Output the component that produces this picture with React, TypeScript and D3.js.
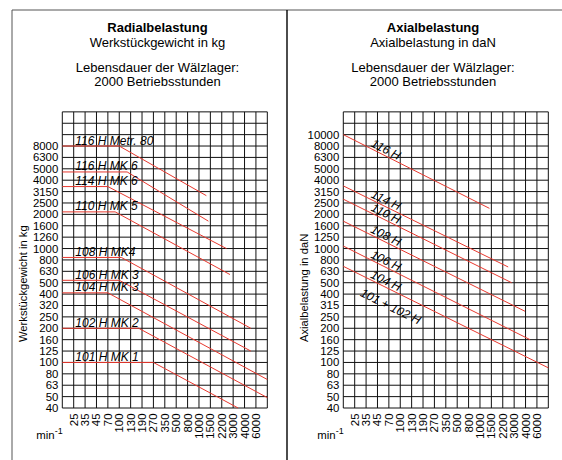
import React from 'react';
import * as d3 from 'd3';

// Drehzahl (min-1) labels along the bottom, one per interior grid line
const rpmTicks = [25, 35, 45, 70, 100, 130, 190, 270, 350, 500, 800, 1000, 1500, 2200, 3000, 4000, 6000];
// notional values at the left / right edge of the grid
const rpmEdges = [18, 9000];

const radialTicks = [40, 50, 63, 80, 100, 125, 160, 200, 250, 320, 400, 500, 630, 800, 1000, 1260, 1600, 2000, 2500, 3150, 4000, 5000, 6300, 8000];
const axialTicks = [40, 50, 63, 80, 100, 125, 160, 200, 250, 315, 400, 500, 630, 800, 1000, 1250, 1600, 2000, 2500, 3150, 4000, 5000, 6300, 8000, 10000];

// Radialbelastung: flat up to the knee, then falling
const radialNames = ['116 H Metr. 80', '116 H MK 6', '114 H MK 6', '110 H MK 5', '108 H MK4', '106 H MK 3', '104 H MK 3', '102 H MK 2', '101 H MK 1'];
const radialLoad = [8000, 4700, 3500, 2100, 840, 525, 410, 200, 100];
const radialKneeRpm = [100, 120, 70, 88, 105, 100, 70, 170, 270];
const radialEndRpm = [1300, 1400, 2500, 2750, 5000, 5000, 9000, 9000, 3400];
const radialEndLoad = [2900, 1750, 1000, 590, 200, 125, 71, 49, 40];

// Axialbelastung: straight lines from the left edge
const axialNames = ['116 H', '114 H', '110 H', '108 H', '106 H', '104 H'];
const axialStartLoad = [10000, 3550, 2700, 1750, 1050, 700];
const axialEndRpm = [1400, 2550, 2800, 3950, 4700, 9000];
const axialEndLoad = [2250, 690, 500, 280, 160, 90];
const axialExtraName = '101 + 102 H';

const CELL = 11.39;
const COLS = 18;
const ROWS = 26;
const BOTTOM = 408;
const RED = '#e8382e';
const FONT = '"Liberation Sans", Arial, Helvetica, sans-serif';

const makeX = (x0: number) =>
  d3.scaleLog()
    .domain([rpmEdges[0], ...rpmTicks, rpmEdges[1]])
    .range(d3.range(COLS + 1).map(i => x0 + i * CELL));

const makeY = (ticks: number[]) =>
  d3.scaleLog()
    .domain(ticks)
    .range(ticks.map((_, i) => BOTTOM - i * CELL));

interface PanelProps {
  x0: number;
  cx: number;
  title: string;
  subtitle: string;
  yTitle: string;
  yTicks: number[];
  children: (x: any, y: any) => React.ReactNode;
}

const Panel = ({x0, cx, title, subtitle, yTitle, yTicks, children}: PanelProps) => {
  const x = makeX(x0);
  const y = makeY(yTicks);
  const top = BOTTOM - ROWS * CELL;
  const right = x0 + COLS * CELL;

  return (
    <g fontFamily={FONT}>
      <text x={cx} y={32} textAnchor="middle" fontSize={13} fontWeight="bold">{title}</text>
      <text x={cx} y={46.5} textAnchor="middle" fontSize={13}>{subtitle}</text>
      <text x={cx} y={72} textAnchor="middle" fontSize={13}>Lebensdauer der Wälzlager:</text>
      <text x={cx} y={85.5} textAnchor="middle" fontSize={13}>2000 Betriebsstunden</text>

      {d3.range(COLS + 1).map(i => (
        <line key={'v' + i} x1={x0 + i * CELL} x2={x0 + i * CELL} y1={top} y2={BOTTOM} stroke="#111" strokeWidth={1} />
      ))}
      {d3.range(ROWS + 1).map(i => (
        <line key={'h' + i} x1={x0} x2={right} y1={BOTTOM - i * CELL} y2={BOTTOM - i * CELL} stroke="#111" strokeWidth={1} />
      ))}

      {yTicks.map(t => (
        <text key={t} x={x0 - 4} y={y(t)} dy="0.35em" textAnchor="end" fontSize={11.4}>{t}</text>
      ))}
      {rpmTicks.map(t => (
        <text key={t} transform={`translate(${x(t)},${BOTTOM + 5.5}) rotate(-90)`} dy="0.35em" textAnchor="end" fontSize={11.4}>{t}</text>
      ))}

      <text transform={`translate(${x0 - 35},${342}) rotate(-90)`} fontSize={11.2}>{yTitle}</text>
      <text x={x0 - 26} y={439} fontSize={11.4}>min<tspan dy={-5} fontSize={9}>-1</tspan></text>

      {children(x, y)}
    </g>
  );
};

const App = () => {
  const line = d3.line<[number, number]>();

  return (
    <svg width={562} height={460} style={{position: 'absolute', left: 0, top: 0, background: '#fff'}}>
      <rect width={562} height={460} fill="#fff" />
      <line x1={12} x2={562} y1={10} y2={10} stroke="#555" strokeWidth={1} />
      <line x1={12} x2={12} y1={10} y2={460} stroke="#555" strokeWidth={1} />
      <line x1={287} x2={287} y1={10} y2={460} stroke="#000" strokeWidth={1.4} />

      <Panel x0={62.3} cx={157.5} title="Radialbelastung" subtitle="Werkstückgewicht in kg"
        yTitle="Werkstückgewicht in kg" yTicks={radialTicks}>
        {(x, y) => radialNames.map((name, i) => (
          <g key={name}>
            <path fill="none" stroke={RED} strokeWidth={1}
              d={line([
                [x(rpmEdges[0]), y(radialLoad[i])],
                [x(radialKneeRpm[i]), y(radialLoad[i])],
                [x(radialEndRpm[i]), y(radialEndLoad[i])],
              ]) as string} />
            <text x={x(rpmEdges[0]) + 13} y={y(radialLoad[i]) - 1.5} fontSize={12} fontStyle="italic">{name}</text>
          </g>
        ))}
      </Panel>

      <Panel x0={343.3} cx={433} title="Axialbelastung" subtitle="Axialbelastung in daN"
        yTitle="Axialbelastung in daN" yTicks={axialTicks}>
        {(x, y) => axialNames.map((name, i) => {
          const p0: [number, number] = [x(rpmEdges[0]), y(axialStartLoad[i])];
          const p1: [number, number] = [x(axialEndRpm[i]), y(axialEndLoad[i])];
          const slope = (p1[1] - p0[1]) / (p1[0] - p0[0]);
          const angle = Math.atan(slope) * 180 / Math.PI;
          const lx = p0[0] + 40;
          const ly = p0[1] + slope * 40;
          const ex = p0[0] + 54;
          const ey = p0[1] + slope * 54;
          return (
            <g key={name}>
              <path fill="none" stroke={RED} strokeWidth={1} d={line([p0, p1]) as string} />
              <text transform={`translate(${lx},${ly}) rotate(${angle})`} dy={-2} textAnchor="middle" fontSize={12} fontStyle="italic">{name}</text>
              {i === axialNames.length - 1 && (
                <text transform={`translate(${ex},${ey}) rotate(${angle})`} dy={19} textAnchor="middle" fontSize={12} fontStyle="italic">{axialExtraName}</text>
              )}
            </g>
          );
        })}
      </Panel>
    </svg>
  );
};

export default App;
